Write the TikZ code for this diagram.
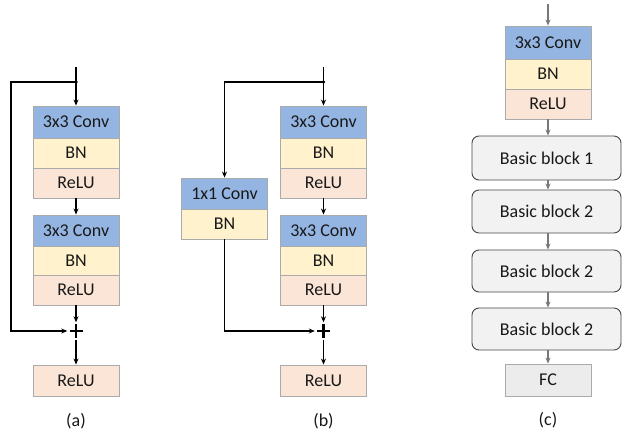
\documentclass[tikz,border=0pt]{standalone}
\usepackage{fontspec}
\setmainfont{Carlito}
\usetikzlibrary{arrows.meta}

\definecolor{convblue}{RGB}{148,181,226}
\definecolor{bnyellow}{RGB}{255,242,204}
\definecolor{relupink}{RGB}{251,229,214}
\definecolor{cellline}{RGB}{170,170,170}
\definecolor{blockfill}{RGB}{242,242,242}
\definecolor{blockline}{RGB}{70,70,70}
\definecolor{fcfill}{RGB}{236,236,236}
\definecolor{greyarrow}{RGB}{120,120,120}
\definecolor{txt}{RGB}{25,25,25}

\tikzset{
  cell/.style={draw=cellline, line width=0.9pt, minimum width=86, inner sep=0pt,
    text=txt, font=\fontsize{18}{21}\selectfont},
  conv/.style={cell, fill=convblue},
  bn/.style={cell, fill=bnyellow},
  relu/.style={cell, fill=relupink},
  block/.style={draw=blockline, line width=0.9pt, fill=blockfill, rounded corners=7pt,
    minimum width=149, inner sep=0pt, text=txt, font=\fontsize{18}{21}\selectfont},
  fcbox/.style={cell, fill=fcfill},
  wire/.style={draw=black, line width=1.2pt},
  conn/.style={wire, -{Stealth[length=6pt,width=5pt]}},
  gconn/.style={draw=greyarrow, line width=1.2pt, -{Stealth[length=6pt,width=5pt]}},
  sumnode/.style={minimum size=17, inner sep=0pt},
  plusmark/.style={line width=2.8pt, black},
  caption/.style={text=txt, font=\fontsize{18}{21}\selectfont}
}

\begin{document}
\begin{tikzpicture}[x=1pt, y=-1pt]
\useasboundingbox[fill=white] (0,0) rectangle (622,430);

% ---------- (a) basic block with identity shortcut ----------
\node[conv, minimum height=32] (a1c) at (76,122) {3x3 Conv};
\node[bn,   minimum height=30] (a1b) at (76,153) {BN};
\node[relu, minimum height=30] (a1r) at (76,183) {ReLU};
\node[conv, minimum height=31] (a2c) at (76,230.5) {3x3 Conv};
\node[bn,   minimum height=29] (a2b) at (76,260.5) {BN};
\node[relu, minimum height=30] (a2r) at (76,290) {ReLU};
\node[relu, minimum height=31] (a3r) at (76,380.5) {ReLU};
\node[sumnode] (pa) at (76,331) {};
\draw[plusmark] (69.5,331) -- (82.5,331) (76,324.5) -- (76,338.5);
\node[caption] (capa) at (76,421) {(a)};

\coordinate (ia) at (76,67);
\coordinate (ta) at (76,82);
\coordinate (la) at (11,82);
\draw[wire] (ia) -- (ta);
\fill (ta) circle (1.8);
\draw[conn] (ta) -- (a1c.north);
\draw[conn] (a1r.south) -- (a2c.north);
\draw[conn] (a2r.south) -- (pa.north);
\draw[conn] (pa.south) -- (a3r.north);
\draw[conn] (ta) -- (la) |- (pa.west);

% ---------- (b) basic block with projection shortcut ----------
\node[conv, minimum height=32] (b1c) at (323.5,122) {3x3 Conv};
\node[bn,   minimum height=30] (b1b) at (323.5,153) {BN};
\node[relu, minimum height=30] (b1r) at (323.5,183) {ReLU};
\node[conv, minimum height=31] (b2c) at (323.5,230.5) {3x3 Conv};
\node[bn,   minimum height=29] (b2b) at (323.5,260.5) {BN};
\node[relu, minimum height=30] (b2r) at (323.5,290) {ReLU};
\node[relu, minimum height=31] (b3r) at (323.5,380.5) {ReLU};
\node[conv, minimum height=31] (sc) at (224.5,193.5) {1x1 Conv};
\node[bn,   minimum height=30] (sb) at (224.5,224) {BN};
\node[sumnode] (pb) at (323.5,331) {};
\draw[plusmark] (317,331) -- (330,331) (323.5,324.5) -- (323.5,338.5);
\node[caption] (capb) at (323.5,421) {(b)};

\coordinate (ib) at (323.5,67);
\coordinate (tb) at (323.5,82);
\draw[wire] (ib) -- (tb);
\fill (tb) circle (1.8);
\draw[conn] (tb) -- (b1c.north);
\draw[conn] (b1r.south) -- (b2c.north);
\draw[conn] (b2r.south) -- (pb.north);
\draw[conn] (pb.south) -- (b3r.north);
\draw[conn] (tb) -| (sc.north);
\draw[conn] (sb.south) |- (pb.west);

% ---------- (c) whole network ----------
\node[conv, minimum height=33] (c1c) at (548,42.5) {3x3 Conv};
\node[bn,   minimum height=30] (c1b) at (548,74) {BN};
\node[relu, minimum height=30] (c1r) at (548,104) {ReLU};
\node[block, minimum height=44] (bb1) at (546.5,158) {Basic block 1};
\node[block, minimum height=43] (bb2) at (546.5,211.5) {Basic block 2};
\node[block, minimum height=42] (bb3) at (546.5,271) {Basic block 2};
\node[block, minimum height=42] (bb4) at (546.5,329) {Basic block 2};
\node[fcbox, minimum height=32] (fc) at (548,380) {FC};
\node[caption] (capc) at (548,420) {(c)};

\coordinate (tc) at (548,4);
\draw[gconn] (tc) -- (c1c.north);
\draw[gconn] (c1r.south) -- (c1r.south |- bb1.north);
\draw[gconn] (c1r.south |- bb1.south) -- (c1r.south |- bb2.north);
\draw[gconn] (c1r.south |- bb2.south) -- (c1r.south |- bb3.north);
\draw[gconn] (c1r.south |- bb3.south) -- (c1r.south |- bb4.north);
\draw[gconn] (c1r.south |- bb4.south) -- (fc.north);
\end{tikzpicture}
\end{document}
